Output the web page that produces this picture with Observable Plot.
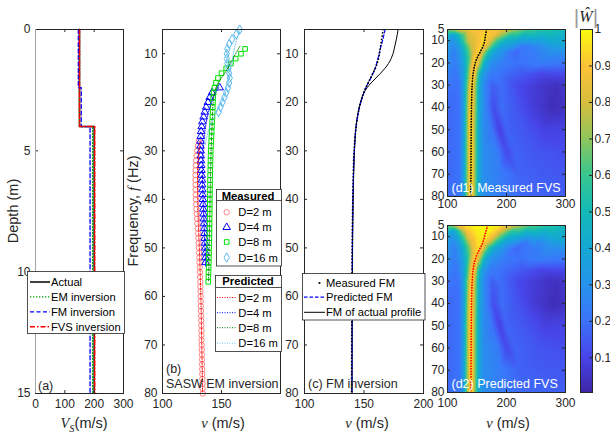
<!DOCTYPE html>
<html><head><meta charset="utf-8">
<script src="https://cdn.jsdelivr.net/npm/d3@7"></script>
<script src="https://cdn.jsdelivr.net/npm/@observablehq/plot@0.6"></script>
<style>
html,body{margin:0;padding:0;background:#fff;}
#chart{position:relative;width:610px;height:434px;overflow:hidden;background:#fff;}
#chart svg{position:absolute;left:0;top:0;}
</style></head><body><div id="chart"></div>
<script>
// ================= DATA =================
// (a) Vs profiles: layer interfaces (m) and layer shear velocities (m/s)
const actualDepths = [0, 4, 15];      const actualVs = [150, 200];
const emDepths     = [0, 4, 15];      const emVs     = [150, 195];
const fmDepths     = [0, 2.4, 4, 15]; const fmVs     = [146, 156, 186];
const fvsDepths    = [0, 4, 15];      const fvsVs    = [150, 202];

// (b) SASW measured dispersion (1 Hz spacing from start frequency), m/s
const measD2Start = 28;
const measD2 = [130.8,130.0,129.4,128.9,128.5,128.3,128.1,128.0,128.0,128.0,128.1,128.2,128.4,128.6,128.8,129.1,129.3,129.6,129.9,130.2,130.4,130.6,130.8,131.0,131.2,131.4,131.6,131.7,131.9,132.0,132.1,132.2,132.3,132.4,132.5,132.6,132.7,132.8,132.9,133.0,133.0,133.1,133.2,133.3,133.4,133.5,133.5,133.6,133.7,133.8,133.9,134.0,134.1];
const measD4Start = 17;
const measD4 = [148.5,142.0,140.0,138.5,137.0,135.8,134.8,133.8,133.2,132.7,132.4,132.2,132.2,132.3,132.4,132.6,132.8,133.0,133.2,133.4,133.6,133.8,134.0,134.2,134.4,134.6,134.8,135.0,135.2,135.4,135.6,135.8,136.0,136.1,136.3,136.4,136.5];
const measD8Start = 9;
const measD8 = [170.0,166.5,162.0,158.0,154.0,150.0,147.0,145.3,144.0,143.3,143.0,142.8,142.6,142.5,142.3,142.1,141.9,141.7,141.5,141.3,141.1,140.9,140.8,140.7,140.6,140.5,140.4,140.3,140.3,140.2,140.2,140.1,140.1,140.0,140.0,139.9,139.9,139.8,139.8,139.7,139.6,139.5,139.4,139.3,139.2,139.1,139.0,138.9,138.8];
const measD16Start = 5;
const measD16 = [165.5,162.5,159.0,156.5,155.0,154.5,154.5,155.0,155.8,156.5,157.0,156.5,155.5,154.0,152.5,150.8,149.2,147.5];

// (b) SASW predicted dispersion
const predD2Freq  = [28, 30, 33, 36, 40, 45, 50, 55, 60, 70, 80];
const predD2      = [131.8, 130.8, 130.0, 129.7, 129.8, 130.4, 131.2, 131.9, 132.5, 133.3, 134.0];
const predD4Freq  = [17, 18, 20, 22, 25, 28, 30, 35, 40, 45, 50, 54];
const predD4      = [147.5, 145.0, 141.5, 139.0, 136.5, 135.0, 134.4, 133.9, 134.4, 135.2, 136.0, 136.6];
const predD8Freq  = [8.5, 10, 12, 13.5, 15.5, 17.3, 20, 25, 30, 40, 50, 57];
const predD8      = [165.5, 162.0, 157.5, 154.0, 148.6, 144.8, 143.0, 142.0, 141.2, 140.3, 139.6, 139.0];
const predD16Freq = [5, 7, 10, 12.5, 15, 19, 22, 25, 29];
const predD16     = [166.0, 163.0, 160.0, 158.5, 156.0, 152.0, 145.8, 140.1, 135.9];

// (c) fundamental mode dispersion curves
const fmFreq     = [5,6,7,8,9,10,11,12,13,14,15,16,17,18,19,20,22,24,26,28,30,35,40,45,50,60,70,80];
const measuredFM = [166.0,165.5,164.8,164.2,163.6,163.0,162.2,161.0,159.5,157.5,155.5,153.5,151.5,149.8,148.4,147.2,145.3,143.9,142.9,142.2,141.7,141.0,140.6,140.3,140.1,139.9,139.7,139.6];
const predictedFM= [167.7,166.8,165.9,164.8,163.7,162.7,161.7,160.6,159.4,157.6,155.7,153.5,151.6,150.0,148.6,147.3,145.3,143.9,142.9,142.3,141.8,141.1,140.7,140.4,140.2,140.0,139.9,139.8];
const actualFM   = [178.6,178.0,177.2,176.3,175.4,174.4,172.8,170.6,167.6,164.0,160.0,156.0,152.6,150.0,148.3,147.0,145.1,143.8,142.9,142.4,142.0,141.3,140.9,140.6,140.4,140.2,140.1,140.0];

// (d) normalized FVS |W|: rows of [v (m/s), |W|] read at given frequencies
const fvsTopFreqs = [5, 7.5, 10, 12.5, 15];
const measuredTopRows = [
  [[100,.66],[108,.72],[118,.82],[135,.87],[155,.9],[170,.9],[185,.88],[200,.82],[215,.72],[235,.62],[265,.55],[300,.50]],
  [[100,.48],[108,.38],[116,.44],[125,.60],[135,.80],[150,.88],[165,.94],[178,.88],[192,.72],[208,.55],[230,.48],[260,.45],[300,.43]],
  [[100,.38],[108,.30],[116,.37],[125,.54],[135,.78],[150,.87],[163,.95],[173,.82],[185,.60],[198,.46],[215,.42],[250,.38],[280,.42],[300,.42]],
  [[100,.34],[110,.27],[120,.36],[130,.56],[140,.78],[152,.90],[160,.95],[168,.78],[180,.52],[193,.38],[208,.33],[228,.22],[252,.26],[275,.34],[300,.38]],
  [[100,.31],[112,.24],[122,.34],[132,.54],[143,.80],[153,.94],[160,.80],[170,.52],[182,.36],[196,.28],[215,.18],[245,.23],[275,.29],[300,.30]]
];
const predictedTopRows = [
  [[100,.62],[108,.72],[116,.86],[128,.95],[145,.99],[170,1.0],[190,.97],[205,.88],[220,.75],[240,.64],[270,.56],[300,.50]],
  [[100,.48],[108,.38],[116,.48],[124,.70],[134,.90],[150,.98],[168,1.0],[182,.93],[196,.74],[210,.57],[235,.48],[265,.45],[300,.43]],
  [[100,.38],[108,.30],[117,.41],[126,.60],[136,.86],[150,.96],[165,.98],[177,.87],[190,.64],[203,.47],[220,.42],[250,.38],[280,.42],[300,.42]],
  [[100,.34],[110,.27],[120,.37],[130,.60],[140,.84],[152,.96],[162,.95],[172,.78],[184,.54],[197,.38],[210,.33],[230,.22],[254,.26],[275,.34],[300,.38]],
  [[100,.31],[112,.24],[122,.34],[132,.56],[143,.84],[153,.96],[161,.84],[171,.55],[183,.37],[198,.28],[216,.18],[245,.23],[275,.29],[300,.30]]
];
const fvsLowerFreqs = [20, 25, 30, 40, 50, 60, 70, 80];
const fvsLowerRows = [
  [[100,.29],[112,.23],[124,.32],[134,.55],[142,.85],[148,.97],[155,.74],[163,.43],[175,.29],[195,.23],[220,.20],[260,.23],[300,.21]],
  [[100,.25],[115,.21],[126,.33],[134,.60],[141,.93],[146,.90],[152,.57],[160,.34],[172,.23],[195,.19],[230,.14],[260,.10],[300,.11]],
  [[100,.21],[118,.20],[127,.34],[134,.68],[141,.98],[147,.73],[154,.41],[163,.26],[175,.16],[190,.19],[220,.11],[260,.06],[285,.04],[300,.07]],
  [[100,.18],[120,.20],[128,.36],[134,.72],[140,.99],[147,.71],[153,.41],[162,.27],[178,.12],[192,.19],[215,.14],[250,.07],[280,.03],[300,.05]],
  [[100,.18],[120,.20],[128,.37],[134,.74],[140,1.0],[146,.73],[152,.43],[160,.29],[175,.21],[188,.09],[200,.17],[230,.14],[265,.09],[300,.10]],
  [[100,.18],[120,.20],[128,.37],[134,.74],[140,1.0],[146,.73],[152,.43],[160,.29],[185,.23],[200,.11],[215,.17],[250,.14],[300,.12]],
  [[100,.18],[120,.20],[128,.37],[134,.74],[140,1.0],[146,.73],[152,.43],[160,.29],[190,.23],[220,.17],[260,.15],[300,.14]],
  [[100,.19],[120,.21],[128,.37],[134,.74],[140,1.0],[146,.73],[152,.43],[160,.29],[190,.23],[230,.18],[300,.16]]
];

// ticks
const xTicksA = [0, 100, 200, 300];
const yTicksA = [0, 5, 10, 15];
const vTicksBC = [100, 150, 200];
const fTicksBC = [10, 20, 30, 40, 50, 60, 70, 80];
const vTicksD = [100, 200, 300];
const fTicksD = [5, 10, 20, 30, 40, 50, 60, 70, 80];
const cbTicks = [0.1, 0.2, 0.3, 0.4, 0.5, 0.6, 0.7, 0.8, 0.9, 1];

// parula colormap stops (0, 0.1, ..., 1)
const parulaStops = ["#3e26a8","#4746ea","#3b74fb","#2694eb","#14a8d4","#14bab8","#38c78f","#8fc65c","#d8bd3d","#fcc238","#f9fb0e"];

// ================= DRAWING =================
const W = 610, H = 434;
const SANS = '"Liberation Sans", Arial, Helvetica, sans-serif';
const SERIF = '"Liberation Serif", "Times New Roman", serif';
const INK = "#262626";
const chart = document.getElementById("chart");
const colorOpts = {type: "linear", domain: [0.005, 1], clamp: true, interpolate: d3.piecewise(d3.interpolateRgb, parulaStops)};

const FA = [35, 29, 123, 393], FB = [162, 29, 280, 393], FC = [304, 29, 423, 393];
const FD1 = [447, 29, 565, 196], FD2 = [447, 225, 565, 392], FCB = [580, 29, 592, 392];

function makePlot(f, x, y, marks, extra = {}) {
  const [l, t, r, b] = f;
  const svg = Plot.plot({
    width: W, height: H, marginLeft: l, marginTop: t, marginRight: W - r, marginBottom: H - b,
    x: {axis: null, ...x}, y: {axis: null, ...y},
    style: {background: "transparent", fontFamily: SANS, fontSize: "12px", color: INK, overflow: "visible"},
    marks, ...extra
  });
  chart.appendChild(svg);
  return svg;
}
function boxMarks(f, xt, yt, tl = 3) {
  const fw = f[2] - f[0], fh = f[3] - f[1];
  return [
    Plot.ruleX(xt, {stroke: INK, insetTop: fh - tl}),
    Plot.ruleX(xt, {stroke: INK, insetBottom: fh - tl}),
    Plot.ruleY(yt, {stroke: INK, insetLeft: fw - tl}),
    Plot.ruleY(yt, {stroke: INK, insetRight: fw - tl}),
    Plot.frame({stroke: INK})
  ];
}
const profile = (depths, vs) => vs.flatMap((v, i) => [{v, d: depths[i]}, {v, d: depths[i + 1]}]);
const series = (start, vals) => vals.map((v, i) => ({f: start + i, v}));
const pairs = (fs, vs) => fs.map((f, i) => ({f, v: vs[i]}));
const grid = (freqs, rows) => rows.flatMap((row, i) => row.map(([v, w]) => ({v, f: freqs[i], w})));
const plain = d => String(d);

// ---- (a)
makePlot(FA, {domain: [0, 300]}, {domain: [0, 15], reverse: true}, [
  Plot.line(profile(actualDepths, actualVs), {x: "v", y: "d", stroke: "#000", strokeWidth: 1.5}),
  Plot.line(profile(emDepths, emVs), {x: "v", y: "d", stroke: "#00a000", strokeWidth: 1.3, strokeDasharray: "1.3 1.7"}),
  Plot.line(profile(fmDepths, fmVs), {x: "v", y: "d", stroke: "#0000ff", strokeWidth: 1.3, strokeDasharray: "4 2.5"}),
  Plot.line(profile(fvsDepths, fvsVs), {x: "v", y: "d", stroke: "#ff0000", strokeWidth: 1.5, strokeDasharray: "5 2 1.5 2"}),
  ...boxMarks(FA, xTicksA, yTicksA),
  Plot.ruleX([0], {stroke: "#a6a6a6"}),
  Plot.axisX({ticks: xTicksA, tickSize: 0, tickPadding: 6, label: null, tickFormat: plain}),
  Plot.axisY({ticks: yTicksA, tickSize: 0, tickPadding: 5, label: null, tickFormat: plain})
]);

// ---- (b)
makePlot(FB, {domain: [100, 200]}, {domain: [5, 80], reverse: true}, [
  Plot.dot(series(measD2Start, measD2), {x: "v", y: "f", symbol: "circle", r: 2.7, stroke: "#ff8080", fill: "none", strokeWidth: 1}),
  Plot.dot(series(measD4Start, measD4), {x: "v", y: "f", symbol: "triangle", r: 2.8, stroke: "#0000ff", fill: "none", strokeWidth: 1}),
  Plot.dot(series(measD8Start, measD8), {x: "v", y: "f", symbol: "square", r: 2.6, stroke: "#00e000", fill: "none", strokeWidth: 1}),
  Plot.dot(series(measD16Start, measD16), {x: "v", y: "f", symbol: "diamond", r: 2.8, stroke: "#5ab8ee", fill: "none", strokeWidth: 1}),
  Plot.line(pairs(predD2Freq, predD2), {x: "v", y: "f", stroke: "#ff0000", strokeWidth: 1, strokeDasharray: "1 1.5", curve: "monotone-y"}),
  Plot.line(pairs(predD4Freq, predD4), {x: "v", y: "f", stroke: "#0000ff", strokeWidth: 1, strokeDasharray: "1 1.5", curve: "monotone-y"}),
  Plot.line(pairs(predD8Freq, predD8), {x: "v", y: "f", stroke: "#008000", strokeWidth: 1, strokeDasharray: "1 1.5", curve: "monotone-y"}),
  Plot.line(pairs(predD16Freq, predD16), {x: "v", y: "f", stroke: "#66c2f2", strokeWidth: 1, strokeDasharray: "1 1.5", curve: "monotone-y"}),
  ...boxMarks(FB, vTicksBC, fTicksBC),
  Plot.axisX({ticks: [100, 150], tickSize: 0, tickPadding: 6, label: null, tickFormat: plain}),
  Plot.axisY({ticks: fTicksBC, tickSize: 0, tickPadding: 5, label: null, tickFormat: plain})
]);

// ---- (c)
makePlot(FC, {domain: [100, 200]}, {domain: [5, 80], reverse: true}, [
  Plot.line(pairs(fmFreq, actualFM), {x: "v", y: "f", stroke: "#000", strokeWidth: 1, curve: "monotone-y", clip: true}),
  Plot.line(pairs(fmFreq, predictedFM), {x: "v", y: "f", stroke: "#0000ff", strokeWidth: 1.2, strokeDasharray: "3.5 2", curve: "monotone-y", clip: true}),
  Plot.line(pairs(fmFreq, measuredFM), {x: "v", y: "f", stroke: "#000", strokeWidth: 1.8, strokeLinecap: "round", strokeDasharray: "0.1 3.2", curve: "monotone-y", clip: true}),
  ...boxMarks(FC, vTicksBC, fTicksBC),
  Plot.axisX({ticks: vTicksBC, tickSize: 0, tickPadding: 6, label: null, tickFormat: plain}),
  Plot.axisY({ticks: fTicksBC, tickSize: 0, tickPadding: 6, label: null, tickFormat: plain})
]);

// ---- (d1), (d2)
function fvsPanel(f, pts, curve, color, xPad) {
  makePlot(f, {domain: [100, 300]}, {domain: [5, 80], reverse: true}, [
    Plot.raster(pts, {x: "v", y: "f", fill: "w", interpolate: "barycentric", x1: 100, x2: 300, y1: 5, y2: 80}),
    Plot.line(pairs(fmFreq, curve), {x: "v", y: "f", stroke: color, strokeWidth: 1.8, strokeLinecap: "round", strokeDasharray: "0.1 2.6", curve: "monotone-y", clip: true}),
    ...boxMarks(f, vTicksD, fTicksD),
    Plot.axisX({ticks: vTicksD, tickSize: 0, tickPadding: xPad, label: null, tickFormat: plain}),
    Plot.axisY({ticks: fTicksD, tickSize: 0, tickPadding: 3, label: null, tickFormat: plain})
  ], {color: colorOpts});
}
fvsPanel(FD1, grid(fvsTopFreqs.concat(fvsLowerFreqs), measuredTopRows.concat(fvsLowerRows)), measuredFM, "#000", 3);
fvsPanel(FD2, grid(fvsTopFreqs.concat(fvsLowerFreqs), predictedTopRows.concat(fvsLowerRows)), predictedFM, "#ff0000", 6);

// ---- colorbar
makePlot(FCB, {domain: [0, 1]}, {domain: [0.005, 1]}, [
  Plot.raster({fill: (x, y) => y, x1: 0, x2: 1, y1: 0.005, y2: 1}),
  Plot.ruleY(cbTicks, {stroke: INK, insetLeft: 9}),
  Plot.frame({stroke: INK}),
  Plot.axisY({anchor: "right", ticks: cbTicks, tickSize: 0, tickPadding: 2, label: null, tickFormat: plain})
], {color: colorOpts});

// ================= ANNOTATIONS (labels, legends) =================
const ov = d3.select(chart).append("svg").attr("width", W).attr("height", H)
  .attr("font-family", SANS).style("position", "absolute").style("left", 0).style("top", 0);

function txt(x, y, parts, o = {}) {
  const t = ov.append("text").attr("x", x).attr("y", y).attr("font-size", o.size || 12)
    .attr("text-anchor", o.anchor || "start").attr("dominant-baseline", "central")
    .attr("fill", o.fill || INK);
  if (o.weight) t.attr("font-weight", o.weight);
  if (o.rotate) t.attr("transform", `rotate(${o.rotate},${x},${y})`);
  (typeof parts === "string" ? [{s: parts}] : parts).forEach(p => {
    const ts = t.append("tspan").text(p.s);
    if (p.it) ts.attr("font-family", SERIF).attr("font-style", "italic");
    if (p.size) ts.attr("font-size", p.size);
    if (p.dy) ts.attr("dy", p.dy);
    if (p.fill) ts.attr("fill", p.fill);
  });
  return t;
}

// axis titles
txt(13, 211, "Depth (m)", {size: 14.5, anchor: "middle", rotate: -90});
txt(133, 211, [{s: "Frequency, "}, {s: "f", it: true}, {s: " (Hz)"}], {size: 14.5, anchor: "middle", rotate: -90});
txt(84, 423, [{s: "V", it: true}, {s: "S", it: true, size: 10.5, dy: 5}, {s: "(m/s)", dy: -5}], {size: 14.5, anchor: "middle"});
txt(223, 423, [{s: "v", it: true}, {s: " (m/s)"}], {size: 14.5, anchor: "middle"});
txt(367, 423, [{s: "v", it: true}, {s: " (m/s)"}], {size: 14.5, anchor: "middle"});
txt(508, 423, [{s: "v", it: true}, {s: "  (m/s)"}], {size: 14.5, anchor: "middle"});

// panel labels
txt(38, 386, "(a)", {size: 12.5});
txt(166, 368.5, "(b)", {size: 12.5});
txt(166, 383.5, "SASW EM inversion", {size: 12.5});
txt(308, 383.5, "(c) FM inversion", {size: 12.5});
txt(451.5, 188, "(d1) Measured FVS", {size: 12.5, fill: "#fff"});
txt(451.5, 383.5, "(d2) Predicted FVS", {size: 12.5, fill: "#fff"});

// colorbar title |W^|
txt(586, 16, [{s: "|", fill: "#9a9a9a", size: 21}, {s: "Ŵ", it: true, size: 16}, {s: "|", fill: "#9a9a9a", size: 21}], {anchor: "middle"});

function box(x, y, w, h) {
  ov.append("rect").attr("x", x).attr("y", y).attr("width", w).attr("height", h)
    .attr("fill", "#fff").attr("stroke", INK).attr("stroke-width", 0.8);
}
function sampleLine(x1, x2, y, stroke, width, dash) {
  ov.append("line").attr("x1", x1).attr("x2", x2).attr("y1", y).attr("y2", y)
    .attr("stroke", stroke).attr("stroke-width", width).attr("stroke-dasharray", dash || null);
}
const LF = 11.2;

// (a) legend
box(27.5, 271.5, 97, 62);
[["Actual", "#000", 1.5, null], ["EM inversion", "#00a000", 1.3, "1.3 1.7"],
 ["FM inversion", "#0000ff", 1.3, "4 2.5"], ["FVS inversion", "#ff0000", 1.5, "5 2 1.5 2"]]
  .forEach(([s, c, w, d], i) => {
    const y = 282 + i * 14.9;
    sampleLine(30, 50, y, c, w, d);
    txt(51, y, s, {size: LF, fill: "#000"});
  });

// (b) Measured legend
box(216.5, 189.5, 65, 76.5);
txt(248, 195.5, "Measured", {size: 11.3, weight: "bold", anchor: "middle", fill: "#000"});
ov.append("line").attr("x1", 216.5).attr("x2", 281.5).attr("y1", 200.5).attr("y2", 200.5).attr("stroke", INK).attr("stroke-width", 0.8);
[["D=2 m", d3.symbolCircle, 2.7, "#ff8080"], ["D=4 m", d3.symbolTriangle, 2.8, "#0000ff"],
 ["D=8 m", d3.symbolSquare, 2.6, "#00e000"], ["D=16 m", d3.symbolDiamond, 2.8, "#5ab8ee"]]
  .forEach(([s, sym, r, c], i) => {
    const y = [212.3, 227.3, 242, 257.5][i];
    ov.append("path").attr("d", d3.symbol(sym, Math.PI * r * r)()).attr("transform", `translate(226.7,${y})`)
      .attr("fill", "none").attr("stroke", c).attr("stroke-width", 1);
    txt(238.3, y, s, {size: LF, fill: "#000"});
  });

// (b) Predicted legend
box(215.5, 275.5, 66, 76);
txt(248, 281, "Predicted", {size: 11.3, weight: "bold", anchor: "middle", fill: "#000"});
ov.append("line").attr("x1", 215.5).attr("x2", 281.5).attr("y1", 287.5).attr("y2", 287.5).attr("stroke", INK).attr("stroke-width", 0.8);
[["D=2 m", "#ff0000"], ["D=4 m", "#0000ff"], ["D=8 m", "#008000"], ["D=16 m", "#66c2f2"]]
  .forEach(([s, c], i) => {
    const y = [297.5, 312.7, 327.7, 343.2][i];
    sampleLine(217, 237, y, c, 1, "1 1.5");
    txt(238.3, y, s, {size: LF, fill: "#000"});
  });

// (c) legend
box(302.5, 273.5, 122.5, 46.5);
ov.append("circle").attr("cx", 319.5).attr("cy", 283).attr("r", 1.1).attr("fill", "#000");
txt(326, 283, "Measured FM", {size: LF, fill: "#000"});
sampleLine(304, 325, 297.2, "#0000ff", 1.2, "3.5 2");
txt(326, 297.2, "Predicted FM", {size: LF, fill: "#000"});
sampleLine(304, 325, 312.3, "#000", 1, null);
txt(326, 312.3, "FM of actual profile", {size: LF, fill: "#000"});
</script></body></html>
